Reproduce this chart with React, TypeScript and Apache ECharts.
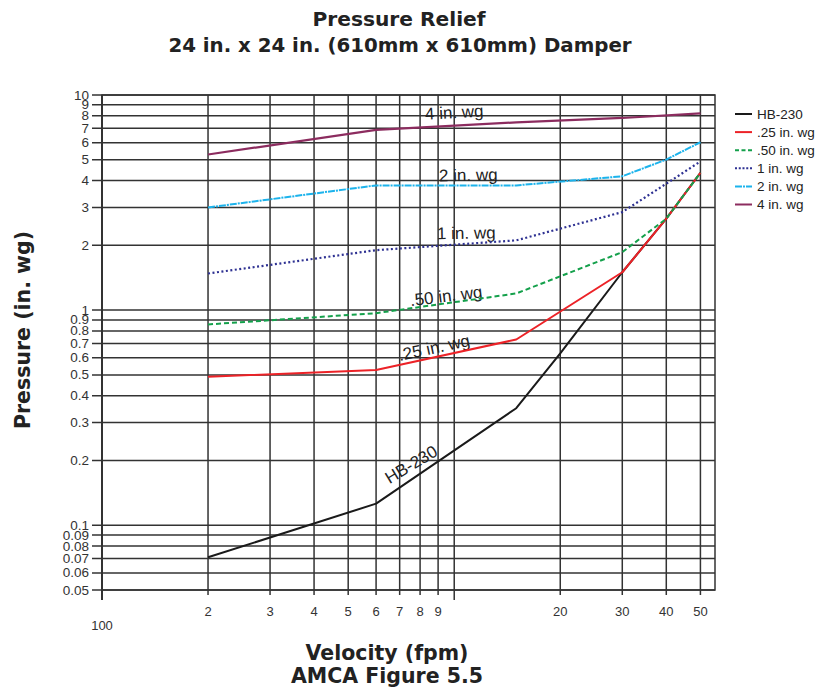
import React, { useEffect, useRef } from 'react';
import * as echarts from 'echarts';

// Axis ticks
const xTickValues = [1, 2, 3, 4, 5, 6, 7, 8, 9, 10, 20, 30, 40, 50];
const xTickLabels = ['100', '2', '3', '4', '5', '6', '7', '8', '9', '', '20', '30', '40', '50'];
const yTickValues = [0.05, 0.06, 0.07, 0.08, 0.09, 0.1, 0.2, 0.3, 0.4, 0.5, 0.6, 0.7, 0.8, 0.9, 1, 2, 3, 4, 5, 6, 7, 8, 9, 10];
const yTickLabels = ['0.05', '0.06', '0.07', '0.08', '0.09', '0.1', '0.2', '0.3', '0.4', '0.5', '0.6', '0.7', '0.8', '0.9', '1', '2', '3', '4', '5', '6', '7', '8', '9', '10'];

const X_MIN = 1;
const X_MAX = 55;
const Y_MIN = 0.05;
const Y_MAX = 10;

// Series data
const hbX = [2, 6, 15, 20, 30, 40, 50];
const hbY = [0.071, 0.126, 0.35, 0.63, 1.5, 2.66, 4.35];
const p25X = [2, 6, 15, 30, 40, 50];
const p25Y = [0.49, 0.527, 0.73, 1.5, 2.66, 4.35];
const p50X = [2, 6, 15, 30, 40, 50];
const p50Y = [0.858, 0.968, 1.195, 1.86, 2.66, 4.35];
const p1X = [2, 6, 15, 30, 40, 50];
const p1Y = [1.48, 1.9, 2.11, 2.855, 3.87, 4.91];
const p2X = [2, 6, 15, 30, 40, 50];
const p2Y = [3.0, 3.8, 3.8, 4.19, 5.01, 6.03];
const p4X = [2, 6, 15, 30, 50];
const p4Y = [5.29, 6.88, 7.46, 7.82, 8.22];

const seriesNames = ['HB-230', '.25 in. wg', '.50 in. wg', '1 in. wg', '2 in. wg', '4 in. wg'];
const curveLabels = ['HB-230', '.25 in. wg', '.50 in. wg', '1 in. wg', '2 in. wg', '4 in. wg'];
const curveLabelX = [7.55, 8.77, 9.49, 10.82, 10.96, 10.0];
const curveLabelY = [0.191, 0.667, 1.16, 2.275, 4.23, 8.28];
const curveLabelRot = [31, 12, 7, 1, 1, 3];

const titleLines = ['Pressure Relief', '24 in. x 24 in. (610mm x 610mm) Damper'];

const FONT = '"Liberation Sans", Arial, Helvetica, sans-serif';
const BOLD_FONT = '"DejaVu Sans", "Liberation Sans", Arial, sans-serif';
const GRID_COLOR = '#333';

// legend icons (line samples), frame 17x14 with the stroke in the middle
const FRAME = 'M0,0M17,14';
const ICON_SOLID = `path://${FRAME}M0,6h17v2h-17z`;
const ICON_DASH = `path://${FRAME}M0,6h4v2h-4zM6.5,6h4v2h-4zM13,6h4v2h-4z`;
const ICON_DOT = `path://${FRAME}M0,6h2v2h-2zM3.75,6h2v2h-2zM7.5,6h2v2h-2zM11.25,6h2v2h-2zM15,6h2v2h-2z`;
const ICON_DASHDOT = `path://${FRAME}M0,6h7v2h-7zM8,6h2v2h-2zM11,6h6v2h-6z`;
const legendIcons = [ICON_SOLID, ICON_SOLID, ICON_DASH, ICON_DOT, ICON_DASHDOT, ICON_SOLID];

function zip(xs: number[], ys: number[]) {
  return xs.map((x, i) => [x, ys[i]]);
}

export default function App() {
  const ref = useRef<HTMLDivElement>(null);
  useEffect(() => {
    if (!ref.current) return;
    const chart = echarts.init(ref.current, undefined, { renderer: 'svg' });

    const lineSeries = (
      idx: number,
      xs: number[],
      ys: number[],
      color: string,
      type: any,
      width: number
    ) => ({
      name: seriesNames[idx],
      type: 'line',
      data: zip(xs, ys),
      symbol: 'none',
      z: 5,
      lineStyle: { color, width, type },
      itemStyle: { color },
      markPoint: {
        symbol: 'circle',
        symbolSize: 1,
        silent: true,
        itemStyle: { color: 'rgba(0,0,0,0)' },
        label: {
          show: true,
          position: 'inside',
          formatter: '{b}',
          rotate: curveLabelRot[idx],
          color: '#222',
          fontSize: 17,
          fontFamily: FONT,
        },
        data: [{ name: curveLabels[idx], coord: [curveLabelX[idx], curveLabelY[idx]] }],
      },
    });

    const boldText = (text: string, x: number, y: number, size: number, extra: any = {}) => ({
      type: 'text',
      x,
      y,
      ...extra,
      style: {
        text,
        font: `bold ${size}px ${BOLD_FONT}`,
        fill: '#222',
        align: 'center',
        verticalAlign: 'middle',
      },
    });

    const option: any = {
      animation: false,
      backgroundColor: '#fff',
      grid: {
        left: 102,
        top: 95,
        width: 613,
        height: 495,
        show: true,
        borderColor: GRID_COLOR,
        borderWidth: 1.5,
        backgroundColor: 'transparent',
      },
      legend: {
        orient: 'vertical',
        left: 730,
        top: 102,
        itemWidth: 17,
        itemHeight: 14,
        itemGap: 4.1,
        data: seriesNames.map((n, i) => ({ name: n, icon: legendIcons[i] })),
        textStyle: { fontFamily: FONT, fontSize: 13.5, color: '#222' },
      },
      xAxis: {
        type: 'log',
        logBase: 10,
        min: X_MIN,
        max: X_MAX,
        axisLine: { show: false },
        axisTick: { show: false },
        axisLabel: { show: false },
        splitLine: { show: false },
      },
      yAxis: {
        type: 'log',
        logBase: 10,
        min: Y_MIN,
        max: Y_MAX,
        axisLine: { show: false },
        axisTick: { show: false },
        axisLabel: { show: false },
        splitLine: { show: false },
      },
      graphic: [
        boldText(titleLines[0], 399, 19, 20.2),
        boldText(titleLines[1], 400, 45, 19.8),
        boldText('Velocity (fpm)', 387, 653, 20.5),
        boldText('AMCA Figure 5.5', 387, 676, 20.5),
        boldText('Pressure (in. wg)', 23, 330, 20.5, { rotation: Math.PI / 2 }),
      ],
      series: [
        {
          type: 'custom',
          name: 'xgrid',
          silent: true,
          clip: false,
          z: 1,
          data: xTickValues.map((v) => [v, Y_MIN]),
          renderItem: (params: any, api: any) => {
            const v = api.value(0);
            const i = params.dataIndex;
            const top = api.coord([v, Y_MAX]);
            const bot = api.coord([v, Y_MIN]);
            const major = v === 1 || v === 10;
            const ext = major ? 10 : 5;
            const lbl = xTickLabels[i];
            return {
              type: 'group',
              children: [
                {
                  type: 'line',
                  shape: { x1: top[0], y1: top[1], x2: bot[0], y2: bot[1] + ext },
                  style: { stroke: GRID_COLOR, lineWidth: v === 1 ? 2 : 1.5 },
                },
                {
                  type: 'text',
                  x: bot[0],
                  y: bot[1] + (v === 1 ? 35 : 21),
                  style: {
                    text: lbl,
                    fill: '#333',
                    fontSize: 13,
                    fontFamily: FONT,
                    align: 'center',
                    verticalAlign: 'middle',
                  },
                },
              ],
            };
          },
        },
        {
          type: 'custom',
          name: 'ygrid',
          silent: true,
          clip: false,
          z: 1,
          data: yTickValues.map((v) => [X_MIN, v]),
          renderItem: (params: any, api: any) => {
            const v = api.value(1);
            const i = params.dataIndex;
            const l = api.coord([X_MIN, v]);
            const r = api.coord([X_MAX, v]);
            return {
              type: 'group',
              children: [
                {
                  type: 'line',
                  shape: { x1: l[0] - 10, y1: l[1], x2: r[0], y2: r[1] },
                  style: { stroke: GRID_COLOR, lineWidth: 1.5 },
                },
                {
                  type: 'text',
                  x: l[0] - 13,
                  y: l[1],
                  style: {
                    text: yTickLabels[i],
                    fill: '#333',
                    fontSize: 13.5,
                    fontFamily: FONT,
                    align: 'right',
                    verticalAlign: 'middle',
                  },
                },
              ],
            };
          },
        },
        lineSeries(0, hbX, hbY, '#1a1a1a', 'solid', 2),
        lineSeries(1, p25X, p25Y, '#ec2227', 'solid', 2),
        lineSeries(2, p50X, p50Y, '#14a04b', [5, 3], 2),
        lineSeries(3, p1X, p1Y, '#2e3192', [2, 2.5], 2.2),
        lineSeries(4, p2X, p2Y, '#1cb3ec', [7, 1, 2, 1], 2),
        lineSeries(5, p4X, p4Y, '#8c2c5f', 'solid', 2.2),
      ],
    };
    chart.setOption(option);
    return () => chart.dispose();
  }, []);
  return (
    <div
      ref={ref}
      style={{ position: 'absolute', left: 0, top: 0, width: 817, height: 694 }}
    />
  );
}
